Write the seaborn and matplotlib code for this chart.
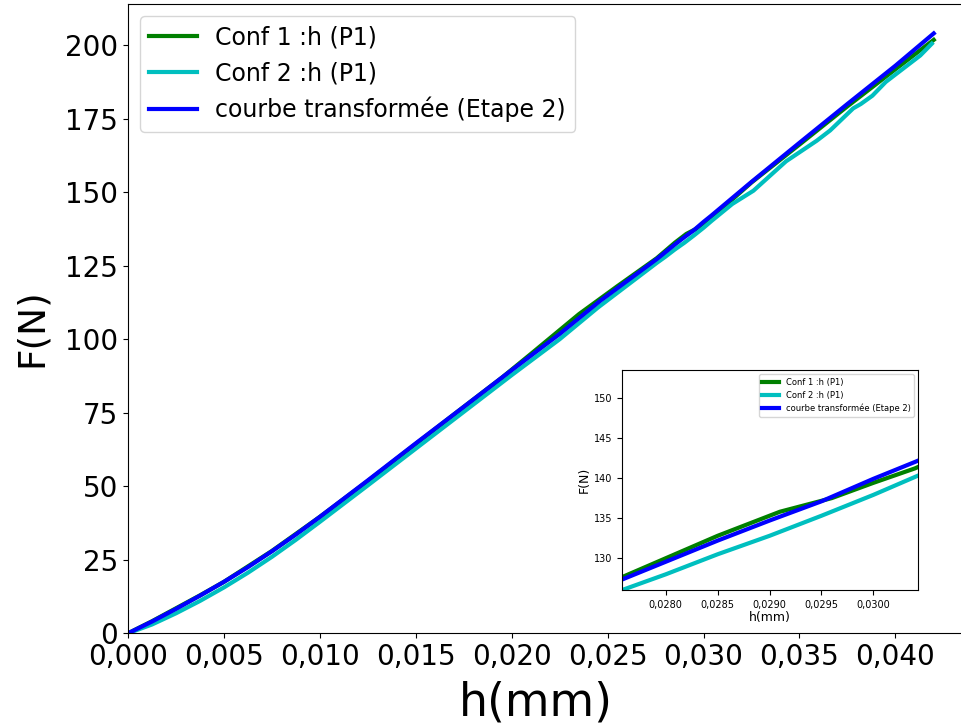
import matplotlib
matplotlib.use("Agg")
from matplotlib import pyplot as plt
from matplotlib.ticker import FuncFormatter, MultipleLocator
import seaborn as sns
import numpy as np

# %% donnees
h_conf1 = [0, 0.00125, 0.0025, 0.00375, 0.005, 0.0075, 0.010, 0.0125, 0.015, 0.0175,
           0.0195, 0.021, 0.0235, 0.0255, 0.02757, 0.0285, 0.0291, 0.0296, 0.0300,
           0.0304, 0.0325, 0.035, 0.0375, 0.040, 0.042]
F_conf1 = [0, 4.1, 8.5, 12.9, 17.5, 28.0, 39.6, 51.8, 64.4, 77.0,
           87.0, 95.0, 108.5, 118.0, 127.6, 132.8, 135.8, 137.5, 139.4,
           141.2, 153.3, 166.2, 179.2, 191.8, 201.8]

h_conf2 = [0, 0.00125, 0.0025, 0.00375, 0.005, 0.00625, 0.0075, 0.00875, 0.010,
           0.0125, 0.015, 0.0175, 0.020, 0.0225, 0.0245, 0.02757, 0.028, 0.0285,
           0.029, 0.0295, 0.030, 0.03043, 0.0315, 0.0326, 0.0343, 0.0359, 0.0366,
           0.0378, 0.0382, 0.0388, 0.0395, 0.0406, 0.0413, 0.0419]
F_conf2 = [0, 3.0, 6.8, 11.0, 15.6, 20.6, 26.0, 31.8, 37.9,
           50.3, 62.8, 75.3, 87.8, 100.0, 110.8, 126.0, 128.0, 130.5,
           132.8, 135.3, 137.9, 140.3, 146.0, 150.5, 160.5, 167.5, 171.0,
           178.5, 180.0, 182.8, 187.5, 193.0, 196.5, 200.5]

h_transf = [0, 0.00125, 0.0025, 0.00375, 0.005, 0.00625, 0.0075, 0.00875, 0.010,
            0.0125, 0.015, 0.0175, 0.020, 0.0225, 0.0246, 0.02757, 0.0285, 0.029,
            0.0295, 0.030, 0.0304, 0.0325, 0.035, 0.0375, 0.040, 0.042]
F_transf = [0, 4.0, 8.3, 12.8, 17.5, 22.5, 27.9, 33.6, 39.6,
            52.0, 64.6, 77.0, 89.5, 101.8, 113.0, 127.3, 132.2, 134.7,
            137.1, 139.9, 142.0, 153.5, 166.8, 180.0, 193.0, 204.0]

series = [
    (h_conf1, F_conf1, "g", "Conf 1 :h (P1)"),
    (h_conf2, F_conf2, "c", "Conf 2 :h (P1)"),
    (h_transf, F_transf, "b", "courbe transformée (Etape 2)"),
]


def virgule(nd):
    return FuncFormatter(lambda v, pos: f"{v:.{nd}f}".replace(".", ","))


def trace(ax, lw, fs_leg, loc):
    for h, F, col, lab in series:
        sns.lineplot(x=h, y=F, ax=ax, color=col, lw=lw, label=lab,
                     estimator=None, sort=False)
    ax.legend(loc=loc, fontsize=fs_leg)


fig = plt.figure(figsize=(9.62, 7.26), dpi=100)

# axe principal (bord droit hors image comme sur l'original)
ax = fig.add_axes([0.1331, 0.1277, 0.8794, 0.8668])
trace(ax, 3, 17, "upper left")
ax.set_xlim(0, 0.0441)
ax.set_ylim(0, 214)
ax.xaxis.set_major_locator(MultipleLocator(0.005))
ax.yaxis.set_major_locator(MultipleLocator(25))
ax.xaxis.set_major_formatter(virgule(3))
ax.tick_params(labelsize=20)
ax.set_xlabel("h(mm)", fontsize=33)
ax.set_ylabel("F(N)", fontsize=27)
ax.xaxis.set_label_coords(0.482, -0.075)
ax.yaxis.set_label_coords(-0.092, 0.485)

# zoom
axi = fig.add_axes([0.6466, 0.1873, 0.3077, 0.3030])
trace(axi, 3, 6, "upper right")
axi.set_xlim(0.02758, 0.03043)
axi.set_ylim(126.05, 153.45)
axi.xaxis.set_major_locator(MultipleLocator(0.0005))
axi.yaxis.set_major_locator(MultipleLocator(5))
axi.xaxis.set_major_formatter(virgule(4))
axi.tick_params(labelsize=7)
axi.set_xlabel("h(mm)", fontsize=9, labelpad=1)
axi.set_ylabel("F(N)", fontsize=9, labelpad=2)

fig.savefig("out.png", dpi=100)
